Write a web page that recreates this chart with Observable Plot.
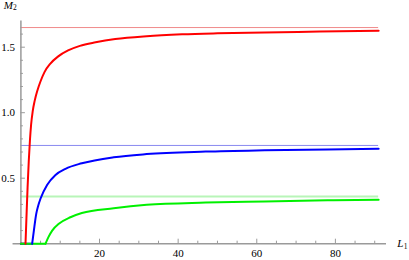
<!DOCTYPE html>
<html>
<head>
<meta charset="utf-8">
<script src="https://cdn.jsdelivr.net/npm/d3@7"></script>
<script src="https://cdn.jsdelivr.net/npm/@observablehq/plot@0.6"></script>
<style>
  html, body { margin: 0; padding: 0; background: white; }
  svg, svg text { font-family: "Liberation Serif", "DejaVu Serif", serif !important; }
</style>
</head>
<body>
<div id="chart"></div>
<script>
// Red curve (M2 vs L1)
const L_red = [1.17, 1.4, 1.7, 2.0, 2.3, 2.6, 3.0, 3.5, 4.2, 5.0, 6.0, 7.5, 9.5, 12, 15, 19, 24, 32, 41, 50, 62, 76, 91];
const M_red = [0, 0.19, 0.43, 0.63, 0.79, 0.91, 1.01, 1.09, 1.17, 1.24, 1.31, 1.375, 1.43, 1.475, 1.51, 1.537, 1.562, 1.584, 1.598, 1.606, 1.613, 1.619, 1.625];
// Blue curve
const L_blue = [2.87, 3.3, 3.9, 4.4, 5.0, 6.7, 8.8, 11.35, 15.5, 23.6, 32, 47, 62, 78, 91];
const M_blue = [0, 0.10, 0.228, 0.29, 0.345, 0.45, 0.525, 0.572, 0.614, 0.66, 0.684, 0.703, 0.713, 0.72, 0.724];
// Green curve
const L_green = [6.26, 7.0, 7.96, 9.65, 12.6, 15.5, 23.6, 32, 47, 62, 78, 91];
const M_green = [0, 0.05, 0.10, 0.152, 0.202, 0.234, 0.271, 0.297, 0.314, 0.323, 0.331, 0.335];
// Asymptotes
const asymValues = [1.65, 0.75, 0.36];
const asymColors = ["#f08a8a", "#8a8af0", "#b8f5b8"];
const asymWidths = [1, 1, 2];
const curveColors = ["#ff0000", "#0000ff", "#00f000"];
// Ticks
const xMajor = [20, 40, 60, 80];
const xMinor = [5, 10, 15, 25, 30, 35, 45, 50, 55, 65, 70, 75, 85, 90];
const yMajor = [0.5, 1.0, 1.5];
const yMinor = [0.1, 0.2, 0.3, 0.4, 0.6, 0.7, 0.8, 0.9, 1.1, 1.2, 1.3, 1.4, 1.6];

const toRows = (Ls, Ms) => Ls.map((L, i) => ({L, M: Ms[i]}));
const curves = [toRows(L_red, M_red), toRows(L_blue, M_blue), toRows(L_green, M_green)];
// flat zero part of each curve, from L = 0 to where it leaves the axis
const flats = [L_red, L_blue, L_green].map(Ls => [{L: 0, M: 0}, {L: Ls[0], M: 0}]);
const Lend = L_red[L_red.length - 1];

const axisGray = "#9a9a9a";

const chart = Plot.plot({
  width: 409,
  height: 260,
  marginLeft: 20.4,
  marginRight: 23,
  marginTop: 20.5,
  marginBottom: 16.8,
  style: {fontSize: "11px", background: "white", color: "black"},
  x: {domain: [0, 93]},
  y: {domain: [0, 1.7]},
  marks: [
    // asymptote lines
    ...asymValues.map((v, i) => Plot.ruleY([v], {x1: 0, x2: Lend, stroke: asymColors[i], strokeWidth: asymWidths[i]})),
    // axes lines
    Plot.ruleY([0], {x1: -2, x2: 93, stroke: axisGray, strokeWidth: 1.5}),
    Plot.ruleX([0], {stroke: axisGray, strokeWidth: 1.5}),
    // y ticks (inward)
    Plot.axisY({ticks: yMinor, tickSize: 2.5, dx: 2.5, fill: "none", stroke: axisGray, label: null}),
    Plot.axisY({ticks: yMajor, tickSize: 4.5, dx: 4.5, fill: "none", stroke: axisGray, label: null}),
    Plot.axisY({ticks: yMajor, tickSize: 0, tickPadding: 6, tickFormat: d3.format(".1f"), fill: "black", label: null}),
    // x ticks (inward)
    Plot.axisX({ticks: xMinor, tickSize: 2.5, dy: -2.5, fill: "none", stroke: axisGray, label: null}),
    Plot.axisX({ticks: xMajor, tickSize: 4.5, dy: -4.5, fill: "none", stroke: axisGray, label: null}),
    Plot.axisX({ticks: xMajor, tickSize: 0, tickPadding: 5, fill: "black", label: null}),
    // curves
    ...flats.map((rows, i) => Plot.line(rows, {x: "L", y: "M", stroke: curveColors[i], strokeWidth: 2})),
    ...curves.map((rows, i) => Plot.line(rows, {x: "L", y: "M", stroke: curveColors[i], strokeWidth: 2, curve: "monotone-x"})),
    // axis labels
    Plot.text(["M"], {text: d => d, frameAnchor: "top-left", dx: -17.1, dy: -16, textAnchor: "start", lineAnchor: "middle", fontStyle: "italic", fontSize: 11}),
    Plot.text(["2"], {text: d => d, frameAnchor: "top-left", dx: -7.8, dy: -13.4, textAnchor: "start", lineAnchor: "middle", fontSize: 7.5}),
    Plot.text(["L"], {text: d => d, frameAnchor: "bottom-right", dx: 10.7, dy: -0.5, textAnchor: "start", lineAnchor: "middle", fontStyle: "italic", fontSize: 11}),
    Plot.text(["1"], {text: d => d, frameAnchor: "bottom-right", dx: 17.3, dy: 2.5, textAnchor: "start", lineAnchor: "middle", fontSize: 7.5})
  ]
});
document.getElementById("chart").appendChild(chart);
</script>
</body>
</html>
